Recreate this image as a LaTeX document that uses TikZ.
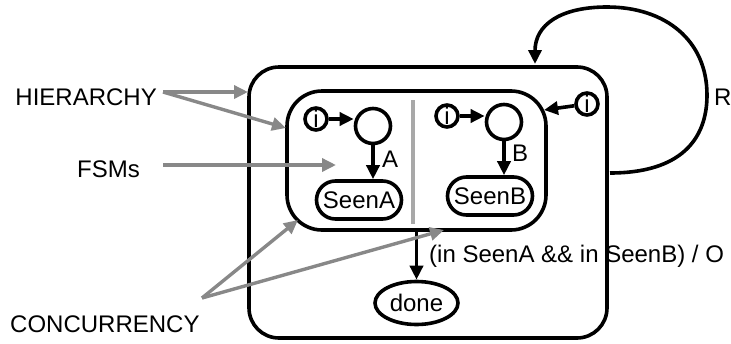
\documentclass[tikz,border=0pt]{standalone}
\usepackage{fontspec}
\setmainfont{Liberation Sans}
\usetikzlibrary{arrows.meta,shapes.geometric}

\definecolor{notegray}{HTML}{888888}
\definecolor{splitgray}{HTML}{A8A8A8}

\tikzset{
  box/.style={draw, line width=3.6pt, inner sep=0pt},
  state/.style={box, circle, minimum size=35pt},
  init/.style={box, circle, minimum size=22pt},
  seen/.style={box, rounded corners=19pt, minimum width=85pt, minimum height=38pt},
  trans/.style={line width=3.6pt, -{Triangle[length=14pt,width=13pt]}},
  note/.style={draw=notegray, line width=3.4pt, -{Triangle[length=14pt,width=13pt]}},
  lbl/.style={inner sep=0pt}
}

\begin{document}
\begin{tikzpicture}[x=1pt, y=-1pt, font=\fontsize{24}{28}\selectfont]
  \useasboundingbox (0,0) rectangle (731,343);

  % Charts
  \node[box, minimum width=358pt, minimum height=271pt, rounded corners=30pt] (outer) at (428,202.5) {};
  \node[box, minimum width=259pt, minimum height=139pt, rounded corners=35pt] (inner) at (416.5,160.5) {};
  \draw[splitgray, line width=3.4pt] (413,100) -- (413,224);

  % Left FSM
  \node[init]  (ia)    at (316,119) {i};
  \node[state] (sa)    at (373,126) {};
  \node[seen]  (seena) at (359,200) {SeenA};
  \draw[trans] (ia.east) -- (ia.east -| sa.west);
  \draw[trans] (sa.south) -- (sa.south |- seena.north);
  \node[lbl, anchor=base west] (la) at (382,167) {A};

  % Right FSM
  \node[init]  (ib)    at (447,116) {i};
  \node[state] (sb)    at (504,122) {};
  \node[seen]  (seenb) at (490,196) {SeenB};
  \draw[trans] (ib.east) -- (ib.east -| sb.west);
  \draw[trans] (sb.south) -- (sb.south |- seenb.north);
  \node[lbl, anchor=base west] (lb) at (512,161) {B};

  % Entry of the parallel state
  \node[init] (ic) at (587,104) {i};
  \coordinate (cin) at (544,110);
  \draw[trans] (ic) -- (cin);

  % Leaving it
  \node[box, ellipse, minimum width=83pt, minimum height=43pt] (done) at (416.5,303) {done};
  \draw[trans] (inner) -- (done);
  \node[lbl, anchor=base west] (guard) at (429,262) {(in SeenA \&\& in SeenB) / O};

  % Reset loop
  \coordinate (rout) at (610,173);
  \coordinate (rin) at (535,64);
  \draw[trans] (rout) .. controls (680,173) and (707,140) .. (707,95)
    .. controls (707,40) and (665,7) .. (607,7)
    .. controls (560,7) and (535,25) .. (rin);
  \node[lbl, anchor=base west] (lr) at (714,105) {R};

  % Notes
  \node[lbl, anchor=base east] (hier) at (157,105) {HIERARCHY};
  \coordinate (hfork) at (163,92);
  \coordinate (hout) at (248,92);
  \coordinate (hin) at (286,128);
  \draw[note] (hfork) -- (hout);
  \draw[note] (hfork) -- (hin);

  \node[lbl, anchor=base east] (fsm) at (140,177) {FSMs};
  \coordinate (ftail) at (163,165);
  \coordinate (fhead) at (336,165);
  \draw[note] (ftail) -- (fhead);

  \node[lbl, anchor=base west] (conc) at (10,332) {CONCURRENCY};
  \coordinate (cfork) at (202,298);
  \coordinate (cleft) at (298,220);
  \coordinate (cright) at (444,230);
  \draw[note] (cfork) -- (cleft);
  \draw[note] (cfork) -- (cright);
\end{tikzpicture}
\end{document}
